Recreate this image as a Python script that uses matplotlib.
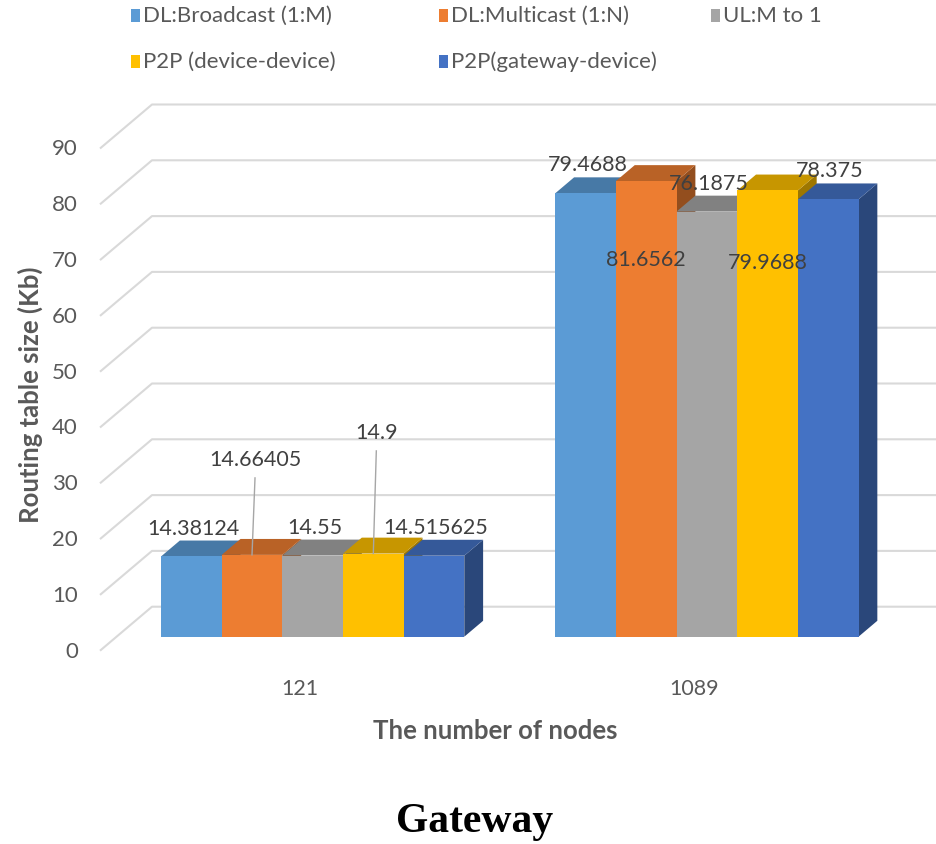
import numpy as np
import matplotlib
matplotlib.use('Agg')
import matplotlib.pyplot as plt
from matplotlib.patches import Polygon, Rectangle
from matplotlib import font_manager

# ===== Data =====
categories = ['121', '1089']
series = ['DL:Broadcast (1:M)', 'DL:Multicast (1:N)', 'UL:M to 1',
          'P2P (device-device)', 'P2P(gateway-device)']
nodes_121 = [14.38124, 14.66405, 14.55, 14.9, 14.515625]
nodes_1089 = [79.4688, 81.6562, 76.1875, 79.9688, 78.375]
yticks = [0, 10, 20, 30, 40, 50, 60, 70, 80, 90]
colors = ['#5B9BD5', '#ED7D31', '#A5A5A5', '#FFC000', '#4472C4']

# where a data label is moved from its default spot (Kb), None = above the bar
label_shift = [[None, 17.2, None, 21.8, None],
               [None, -14.0, None, -12.8, None]]
leader = [[False, True, False, True, False],
          [False, False, False, False, False]]

# ===== Fake 3D geometry (pixels) =====
W, H = 936, 845
OX, OY = 144.5, 651.7        # slot 0 / value 0 on the front plane
SLOT, UNIT = 60.65, 5.58     # px per bar slot, px per Kb
DEPTH_X, DEPTH_Y = 52, 44    # front plane -> back wall
Z_FRONT, Z_BACK = 0.318, 0.68
GROUP_GAP = 1.5
WALL_LEFT = (100 - OX) / SLOT


def proj(x, v, z=0.0):
    return x + z * DEPTH_X / SLOT, v + z * DEPTH_Y / UNIT


def shade(c, k):
    r, g, b = matplotlib.colors.to_rgb(c)
    return (r * k, g * k, b * k)


available = {f.name for f in font_manager.fontManager.ttflist}
font = next(f for f in ['Liberation Sans Narrow', 'Lato', 'DejaVu Sans'] if f in available)
k = {'Liberation Sans Narrow': 1.16, 'Lato': 1.0}.get(font, 0.85)
fs = 15.5 * k
plt.rcParams['font.family'] = font

fig = plt.figure(figsize=(W / 100, H / 100), dpi=100)
ax = fig.add_axes([0, 0, 1, 1])
ax.set_xlim(-OX / SLOT, (W - OX) / SLOT)
ax.set_ylim((OY - H) / UNIT, OY / UNIT)
ax.axis('off')

# gridlines: short diagonal on the floor side, then along the back wall
for t in yticks:
    p0 = proj(WALL_LEFT, t, 0)
    p1 = proj(WALL_LEFT, t, 1)
    ax.plot([p0[0], p1[0], 20], [p0[1], p1[1], p1[1]], color='#d9d9d9',
            lw=1.5, zorder=1, solid_capstyle='butt')
    ax.annotate(str(t), p0, xytext=(-22, 0), textcoords='offset pixels',
                ha='right', va='center', fontsize=fs + 0.5, color='#595959')

# bars, drawn left to right so later faces hide earlier side faces
zo = 2
for g, vals in enumerate([nodes_121, nodes_1089]):
    for s, v in enumerate(vals):
        x = g * (len(series) + GROUP_GAP) + s
        side = [proj(x + 1, 0, Z_FRONT), proj(x + 1, 0, Z_BACK),
                proj(x + 1, v, Z_BACK), proj(x + 1, v, Z_FRONT)]
        top = [proj(x, v, Z_FRONT), proj(x + 1, v, Z_FRONT),
               proj(x + 1, v, Z_BACK), proj(x, v, Z_BACK)]
        front = [proj(x, 0, Z_FRONT), proj(x + 1, 0, Z_FRONT),
                 proj(x + 1, v, Z_FRONT), proj(x, v, Z_FRONT)]
        ax.add_patch(Polygon(side, closed=True, fc=shade(colors[s], 0.62), ec='none', zorder=zo))
        ax.add_patch(Polygon(top, closed=True, fc=shade(colors[s], 0.78), ec='none', zorder=zo + 1))
        ax.add_patch(Polygon(front, closed=True, fc=colors[s], ec='none', zorder=zo + 2))
        zo += 3

# data labels
for g, vals in enumerate([nodes_121, nodes_1089]):
    for s, v in enumerate(vals):
        x = g * (len(series) + GROUP_GAP) + s
        shift = label_shift[g][s]
        if shift is None:
            xa = proj(x + 0.5, v, Z_FRONT)[0]
            ya = proj(x + 0.5, v, Z_BACK)[1]
            ax.annotate(str(v), (xa, ya), xytext=(2, 13), textcoords='offset pixels',
                        ha='center', va='center', fontsize=fs, color='#404040', zorder=100)
        else:
            lx, ly = proj(x + 0.5, v + shift, Z_FRONT)
            if leader[g][s]:
                lx += 3 / SLOT
                bx, by = proj(x + 0.5, v, Z_FRONT)
                ax.plot([lx, bx], [ly - 19 / UNIT, by], color='#a6a6a6', lw=1, zorder=99)
            ax.text(lx, ly, str(v), ha='center', va='center', fontsize=fs,
                    color='#404040', zorder=100)

# category labels
for g, cat in enumerate(categories):
    cx = g * (len(series) + GROUP_GAP) + len(series) / 2
    ax.annotate(cat, proj(cx, 0, 0), xytext=(4, -37), textcoords='offset pixels',
                ha='center', va='center', fontsize=fs, color='#595959')

# axis titles and caption
fig.text(495 / W, 1 - 731 / H, 'The number of nodes', ha='center', va='center',
         fontsize=18.5 * k, fontweight='bold', color='#595959')
fig.text(30 / W, 1 - 395 / H, 'Routing table size (Kb)', ha='center', va='center',
         rotation=90, fontsize=18.5 * k, fontweight='bold', color='#595959')
fig.text(475 / W, 1 - 822 / H, 'Gateway', ha='center', va='center',
         fontsize=30, fontweight='bold', family='Liberation Serif', color='black')

# legend, laid out row by row
leg_x = [135, 443, 715]
leg_y = [16, 62]
for i, name in enumerate(series):
    cx, cy = leg_x[i % 3], leg_y[i // 3]
    fig.add_artist(Rectangle(((cx - 4.5) / W, 1 - (cy + 6.5) / H), 9 / W, 13 / H,
                             transform=fig.transFigure, fc=colors[i], ec='none'))
    fig.text((cx + 8) / W, 1 - cy / H, name, ha='left', va='center',
             fontsize=16 * k, color='#595959')

plt.savefig('out.png', dpi=100)
